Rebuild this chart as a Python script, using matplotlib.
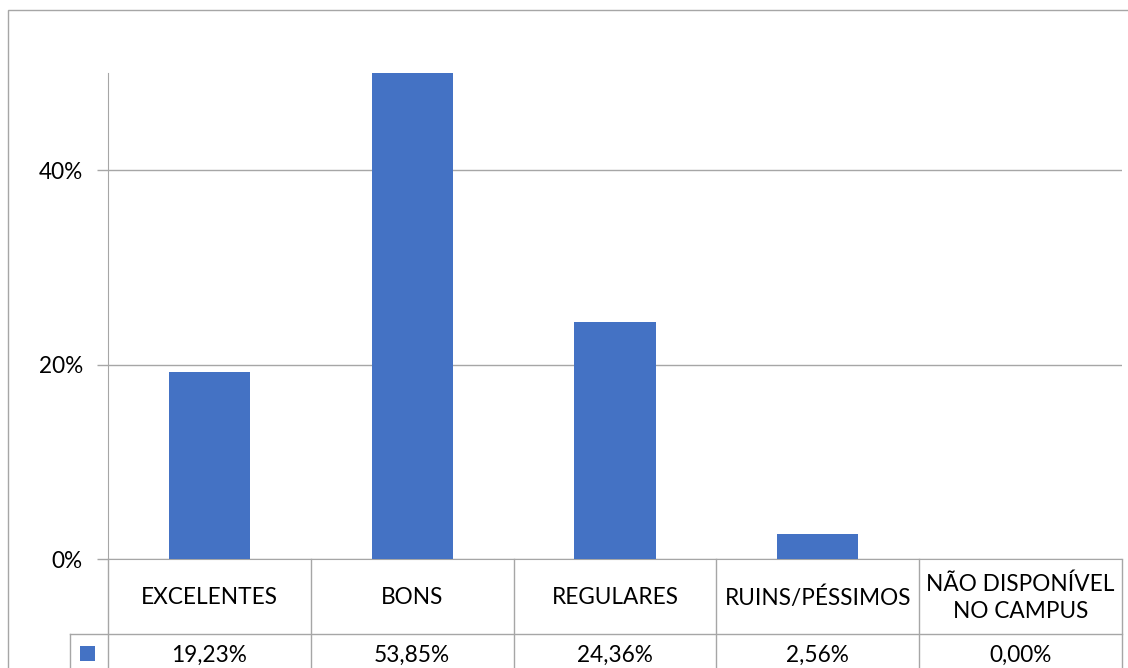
import matplotlib
matplotlib.use("Agg")
import matplotlib.pyplot as plt
from matplotlib.lines import Line2D
from matplotlib.patches import Rectangle
from matplotlib.ticker import FuncFormatter

plt.rcParams['font.family'] = ['Lato', 'DejaVu Sans']

# data
categorias = ['EXCELENTES', 'BONS', 'REGULARES', 'RUINS/PÉSSIMOS', 'NÃO DISPONÍVEL\nNO CAMPUS']
valores = [19.23, 53.85, 24.36, 2.56, 0.00]
y_ticks = [0, 20, 40]

AZUL = '#4472C4'
CINZA = '#A6A6A6'
W, H = 1128, 668
FS = 16.3

fig = plt.figure(figsize=(W / 100, H / 100), dpi=100)

# pixel -> figure fraction helpers
def fx(px):
    return px / W

def fy(py):
    return 1 - py / H

# ########## main plot area
ax = fig.add_axes([fx(108), fy(559), fx(1122) - fx(108), fy(73) - fy(559)])
x = list(range(len(categorias)))
ax.bar(x, valores, width=0.4, color=AZUL, zorder=3)
ax.set_xlim(-0.5, len(categorias) - 0.5)
ax.set_ylim(0, 50)
ax.set_yticks(y_ticks)
ax.yaxis.set_major_formatter(FuncFormatter(lambda v, p: '%d%%' % v))
ax.grid(axis='y', color=CINZA, linewidth=1.0, zorder=0)
ax.tick_params(axis='y', length=8, width=1.0, color=CINZA, pad=10, labelsize=FS)
ax.tick_params(axis='x', bottom=False, labelbottom=False)
for s in ['top', 'right']:
    ax.spines[s].set_visible(False)
ax.spines['left'].set_color(CINZA)
ax.spines['bottom'].set_color(CINZA)

# ########## data table below the chart
tab = fig.add_axes([fx(108), 0, fx(1122) - fx(108), fy(559)])
tab.set_xlim(-0.5, len(categorias) - 0.5)
tab.set_ylim(559 + (H - 559), 559)  # pixel rows, top = 559
tab.axis('off')
col_w = (1122 - 108) / len(categorias)
key_left = -0.5 - (108 - 70) / col_w
row1_top, row2_top, row2_bot = 559, 634, 676

def line(xs, ys):
    tab.add_line(Line2D(xs, ys, color=CINZA, linewidth=1.0, clip_on=False))

for i in range(len(categorias) + 1):
    line([i - 0.5, i - 0.5], [row1_top, row2_bot])
line([key_left, len(categorias) - 0.5], [row2_top, row2_top])
line([key_left, key_left], [row2_top, row2_bot])

for i, (c, v) in enumerate(zip(categorias, valores)):
    tab.text(i, (row1_top + row2_top) / 2 + 1, c, ha='center', va='center',
             fontsize=FS, linespacing=1.38)
    tab.text(i, 655, ('%.2f%%' % v).replace('.', ','), ha='center', va='center',
             fontsize=FS)

# legend key
key = Rectangle((fx(80), fy(661)), fx(15), fy(646) - fy(661), transform=fig.transFigure,
                facecolor=AZUL, edgecolor='none')
fig.add_artist(key)

# chart outer border
fig.add_artist(Rectangle((fx(8), fy(700)), fx(1200), fy(10) - fy(700), transform=fig.transFigure,
                         facecolor='none', edgecolor=CINZA, linewidth=1.0))

fig.savefig('out.png', dpi=100)
